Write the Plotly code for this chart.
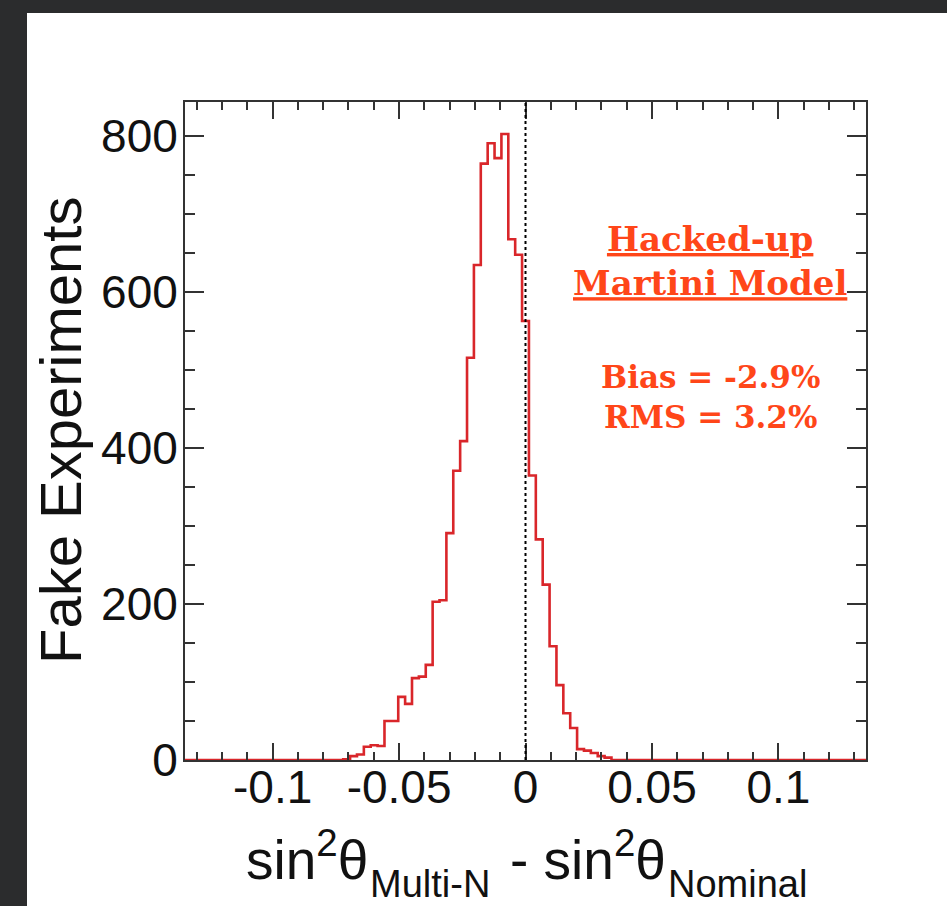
import plotly.graph_objects as go

# ---- data ----
BIN_WIDTH = 0.00272
X_MIN = -0.13464          # lower edge of first bin
# counts per bin, 99 bins, left to right
counts = [
    0, 0, 0, 0, 0, 0, 0, 0, 0, 0,
    0, 0, 0, 0, 0, 0, 0, 0, 0, 0,
    0, 0, 0,
    1, 5, 7, 17, 19, 18, 50, 50, 81, 72,
    105, 107, 122, 203, 205, 291, 371, 409, 516, 635,
    765, 791, 772, 803, 668, 648, 563, 365, 283, 225,
    146, 96, 60, 41, 14, 12, 9, 5, 3,
    0, 0, 0, 0, 0, 0, 0, 0, 0, 0,
    0, 0, 0, 0, 0, 0, 0, 0, 0, 0,
    0, 0, 0, 0, 0, 0, 0, 0, 0, 0,
    0, 0, 0, 0, 0, 0, 0,
]
x_tickvals = [-0.1, -0.05, 0, 0.05, 0.1]
x_ticktext = ["-0.1", "-0.05", "0", "0.05", "0.1"]
y_tickvals = [0, 200, 400, 600, 800]
y_ticktext = ["0", "200", "400", "600", "800"]
NOMINAL = 0.0
Y_MAX = 844

# ---- derived bin edges ----
edges = [X_MIN + i * BIN_WIDTH for i in range(len(counts) + 1)]
y_step = counts + [counts[-1]]

RED = "#d9262a"
ORANGE = "#ff4619"
AXC = "#333333"
TXT = "#111111"
FONT = "Liberation Sans, Arial, sans-serif"

# plot-area geometry in pixels (for paper-coordinate conversions)
L, R, T, B = 185, 866, 102, 760
def px_x(p):
    return (p - L) / (R - L)
def px_y(p):
    return (B - p) / (B - T)

fig = go.Figure()
fig.add_trace(go.Scatter(
    x=edges, y=y_step, mode="lines", line_shape="hv",
    line=dict(color=RED, width=2.6), hoverinfo="skip", showlegend=False,
))

fig.add_shape(type="line", x0=NOMINAL, x1=NOMINAL, y0=0, y1=1,
              xref="x", yref="y domain",
              line=dict(color="black", width=2, dash="dot"))

# white panel on a dark slide background
fig.add_shape(type="rect", xref="paper", yref="paper",
              x0=px_x(27), x1=px_x(960), y0=px_y(920), y1=px_y(13),
              fillcolor="white", line=dict(width=0), layer="below")

fig.update_layout(
    width=947, height=906,
    margin=dict(l=L, r=947 - R, t=T, b=906 - B),
    paper_bgcolor="#2b2c2d",
    plot_bgcolor="white",
    showlegend=False,
    font=dict(family=FONT, color=TXT),
)

fig.update_xaxes(
    range=[edges[0], edges[-1]],
    tickvals=x_tickvals, ticktext=x_ticktext,
    ticks="inside", ticklen=17, tickwidth=1.5, tickcolor=AXC,
    minor=dict(dtick=0.01, tick0=0, ticks="inside", ticklen=8,
               tickwidth=1.5, tickcolor=AXC),
    showline=True, linecolor=AXC, linewidth=2, mirror="ticks",
    showgrid=False, zeroline=False,
    tickfont=dict(size=46, family=FONT, color=TXT),
    ticklabelstandoff=-14,
)
fig.update_yaxes(
    range=[0, Y_MAX],
    tickvals=y_tickvals, ticktext=y_ticktext,
    ticks="inside", ticklen=19, tickwidth=1.5, tickcolor=AXC,
    minor=dict(dtick=50, tick0=0, ticks="inside", ticklen=10,
               tickwidth=1.5, tickcolor=AXC),
    showline=True, linecolor=AXC, linewidth=2, mirror="ticks",
    showgrid=False, zeroline=False,
    tickfont=dict(size=46, family=FONT, color=TXT),
    ticklabelstandoff=-4,
)

# y axis title
fig.add_annotation(
    text="Fake Experiments", xref="paper", yref="paper",
    x=px_x(60), y=0.5, textangle=-90, showarrow=False,
    xanchor="center", yanchor="middle",
    font=dict(size=58, family=FONT, color=TXT),
)

# x axis title, ROOT style (subscripts set well below the baseline)
MAIN = dict(size=55, family=FONT, color=TXT)
SUBF = dict(size=38, family=FONT, color=TXT)
fig.add_annotation(text="sin<sup>2</sup>θ", xref="paper", yref="paper",
                   x=px_x(370), y=px_y(893), xanchor="right", yanchor="bottom",
                   showarrow=False, font=MAIN)
fig.add_annotation(text="Multi-N", xref="paper", yref="paper",
                   x=px_x(368), y=px_y(907), xanchor="left", yanchor="bottom",
                   showarrow=False, font=SUBF)
fig.add_annotation(text="- sin<sup>2</sup>θ", xref="paper", yref="paper",
                   x=px_x(668), y=px_y(893), xanchor="right", yanchor="bottom",
                   showarrow=False, font=MAIN)
fig.add_annotation(text="Nominal", xref="paper", yref="paper",
                   x=px_x(666), y=px_y(907), xanchor="left", yanchor="bottom",
                   showarrow=False, font=SUBF)

# model label
fig.add_annotation(
    text="<u>Hacked-up</u><br><u>Martini Model</u>",
    xref="paper", yref="paper", x=px_x(710), y=px_y(261),
    showarrow=False, xanchor="center", yanchor="middle",
    font=dict(size=34, family="DejaVu Serif", color=ORANGE, weight="bold"),
)
fig.add_annotation(
    text="Bias = -2.9%<br>RMS = 3.2%",
    xref="paper", yref="paper", x=px_x(710), y=px_y(397),
    showarrow=False, xanchor="center", yanchor="middle",
    font=dict(size=31, family="DejaVu Serif", color=ORANGE, weight="bold"),
)

fig.write_html("out.html", config={"displayModeBar": False},
               post_script="document.body.style.margin='0px';")
